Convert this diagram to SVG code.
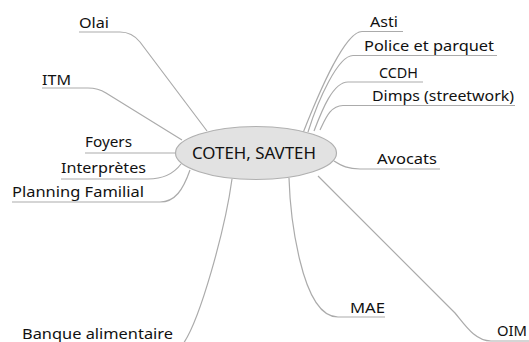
<svg xmlns="http://www.w3.org/2000/svg" width="529" height="342" viewBox="0 0 529 342">
<style>
.c{fill:none;stroke:#ababab;stroke-width:1.2}
.t{font-family:"Noto Sans","DejaVu Sans",sans-serif;font-size:14.5px;fill:#111111}
.m{font-family:"Noto Sans","DejaVu Sans",sans-serif;font-size:16px;fill:#111111}
</style>
<rect width="529" height="342" fill="#ffffff"/>
<g id="connectors">
<path class="c" d="M79,32 H120 Q132,32 140,42 L207,131"/>
<path class="c" d="M42,88 H88 Q98,88 106,93 L182,140"/>
<path class="c" d="M403,31.5 H362 C345,31.5 320,90 303,133"/>
<path class="c" d="M497,55.5 H353 C338,55.5 318,100 308,132"/>
<path class="c" d="M423,82 H348 C333,82 322,110 314,131"/>
<path class="c" d="M515,105.5 H343 C330,105.5 325,120 320,130"/>
<path class="c" d="M440,169 H360 C348,169 342,166 334,161"/>
<path class="c" d="M85,153 H176"/>
<path class="c" d="M61,179 H148 C165,179 175,172 181,164"/>
<path class="c" d="M12,202 H160 C175,202 183,190 190,170"/>
<path class="c" d="M22,344 H183 C200,320 225,230 232,179"/>
<path class="c" d="M385,317 H338 C300,317 290,210 289,178"/>
<path class="c" d="M529,341 H491 C475,341 465,325 455,313 L318,176"/>
</g>
<g id="center">
<ellipse cx="256" cy="153" rx="80.5" ry="26.5" fill="#e2e2e2" stroke="#b0b0b0" stroke-width="1.2"/>
<text class="m" x="192" y="159" textLength="124" lengthAdjust="spacingAndGlyphs">COTEH, SAVTEH</text>
</g>
<g id="olai"><text class="t" x="79" y="28" textLength="30" lengthAdjust="spacingAndGlyphs">Olai</text></g>
<g id="itm"><text class="t" x="42" y="85" textLength="29" lengthAdjust="spacingAndGlyphs">ITM</text></g>
<g id="asti"><text class="t" x="370" y="27" textLength="28" lengthAdjust="spacingAndGlyphs">Asti</text></g>
<g id="police"><text class="t" x="364" y="51" textLength="130" lengthAdjust="spacingAndGlyphs">Police et parquet</text></g>
<g id="ccdh"><text class="t" x="379" y="78" textLength="39" lengthAdjust="spacingAndGlyphs">CCDH</text></g>
<g id="dimps"><text class="t" x="372" y="101" textLength="142" lengthAdjust="spacingAndGlyphs">Dimps (streetwork)</text></g>
<g id="avocats"><text class="t" x="377" y="164" textLength="60" lengthAdjust="spacingAndGlyphs">Avocats</text></g>
<g id="foyers"><text class="t" x="85" y="147" textLength="47" lengthAdjust="spacingAndGlyphs">Foyers</text></g>
<g id="interpretes"><text class="t" x="61" y="173" textLength="85" lengthAdjust="spacingAndGlyphs">Interprètes</text></g>
<g id="planning"><text class="t" x="12" y="197" textLength="132" lengthAdjust="spacingAndGlyphs">Planning Familial</text></g>
<g id="banque"><text class="t" x="22" y="339" textLength="151" lengthAdjust="spacingAndGlyphs">Banque alimentaire</text></g>
<g id="mae"><text class="t" x="350" y="313" textLength="35" lengthAdjust="spacingAndGlyphs">MAE</text></g>
<g id="oim"><text class="t" x="497" y="336" textLength="30" lengthAdjust="spacingAndGlyphs">OIM</text></g>
</svg>
